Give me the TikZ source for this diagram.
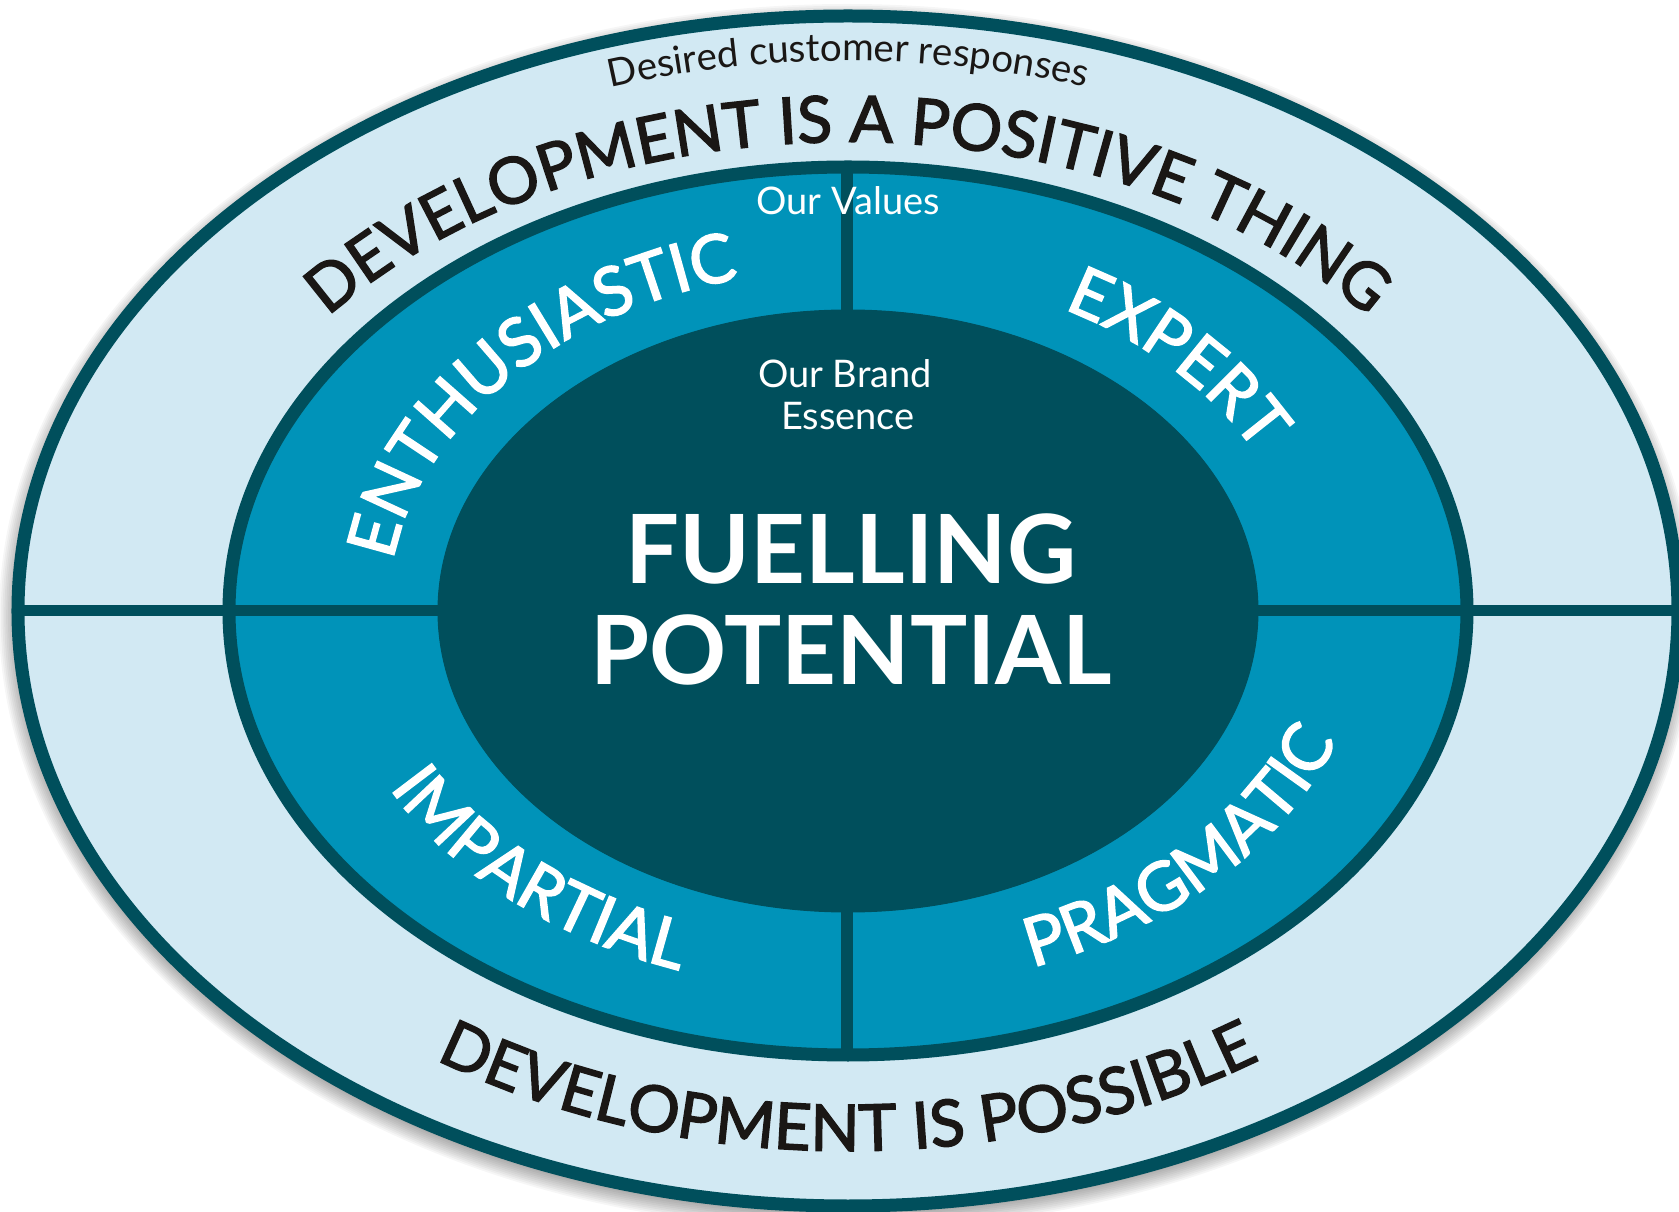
\documentclass[tikz,border=0pt]{standalone}
\usepackage{fontspec}
\setmainfont{Lato}
\newfontfamily\medfont{Lato}[FakeBold=2.2]
\usetikzlibrary{decorations.text}
\definecolor{light}{RGB}{210,233,243}
\definecolor{midb}{RGB}{0,147,185}
\definecolor{dark}{RGB}{0,79,92}
\definecolor{ink}{RGB}{26,23,21}
\newcommand\ringfont{\medfont\fontsize{64.5}{64.5}\selectfont}
\newcommand\valfont{\medfont\fontsize{67.5}{67.5}\selectfont}
\newcommand\smallfont{\fontsize{38.5}{38.5}\selectfont}
\newcommand\centfont{\fontsize{38}{38}\selectfont}
\begin{document}
\begin{tikzpicture}[x=1pt,y=1pt,
  ringline/.style={draw=dark, line width=13pt},
  divider/.style={draw=dark, line width=12pt},
  curvetext/.style={decorate, decoration={text along path, text align=center, text color=#1}},
  curvetext/.default=ink]
\useasboundingbox (-848,-601) rectangle (831,611);
\fill[white] (-848,-601) rectangle (831,611);
% soft shadow
\foreach \i in {1,...,10}
  \fill[black, opacity=0.035] (-1,-6) ellipse [x radius={830pt+\i*1.8pt}, y radius={595pt+\i*1.8pt}];
% rings
\path[ringline, fill=light] (0,0) ellipse [x radius=830pt, y radius=595pt];
\path[ringline, fill=midb] (0,0) ellipse [x radius=619pt, y radius=444pt];
% dividers
\coordinate (ol) at (-830,0); \coordinate (il) at (-410,0);
\coordinate (or) at (830,0);  \coordinate (ir) at (410,0);
\coordinate (mt) at (-1,444); \coordinate (it) at (-1,301);
\coordinate (mb) at (-1,-444); \coordinate (ib) at (-1,-301);
\draw[divider, line width=11pt] (ol) -- (il);
\draw[divider, line width=11pt] (ir) -- (or);
\draw[divider] (mt) -- (it);
\draw[divider] (ib) -- (mb);
% core
\fill[dark] (0,0) ellipse [x radius=410pt, y radius=301pt];
\draw[dark, line width=1pt] (0,0) ellipse [x radius=410pt, y radius=301pt];

% outer ring texts
\path[curvetext={ink}, decoration={text={|\smallfont|Desired customer responses}}]
  (180:775pt and 550pt) arc[start angle=180, end angle=0, x radius=775pt, y radius=550pt];
\path[curvetext={ink}, decoration={text={|\ringfont|DEVELOPMENT IS A POSITIVE THING}}]
  (180:668pt and 469pt) arc[start angle=180, end angle=0, x radius=668pt, y radius=469pt];
\path[curvetext={ink}, decoration={text={|\ringfont|DEVELOPMENT IS POSSIBLE}}]
  (180:740pt and 540pt) arc[start angle=180, end angle=360, x radius=740pt, y radius=540pt];

% value texts
\path[curvetext={white}, decoration={text={|\valfont|ENTHUSIASTIC}}]
  (178.5:460pt and 342pt) arc[start angle=178.5, end angle=98.5, x radius=460pt, y radius=342pt];
\path[curvetext={white}, decoration={text={|\valfont|EXPERT}}]
  (82:460pt and 342pt) arc[start angle=82, end angle=2, x radius=460pt, y radius=342pt];
\path[curvetext={white}, decoration={text={|\valfont|IMPARTIAL}}]
  (187:518pt and 380pt) arc[start angle=187, end angle=267, x radius=518pt, y radius=380pt];
\path[curvetext={white}, decoration={text={|\valfont|PRAGMATIC}}]
  (277.5:520pt and 381pt) arc[start angle=277.5, end angle=357.5, x radius=520pt, y radius=381pt];

% centre texts
\node[anchor=base, text=white, font=\centfont, inner sep=0pt] (values) at (0,396) {Our Values};
\node[anchor=base, text=white, font=\centfont, inner sep=0pt] (brand1) at (-3,223) {Our Brand};
\node[anchor=base, text=white, font=\centfont, inner sep=0pt] (brand2) at (0,181) {Essence};
\node[anchor=base, text=white, font=\bfseries\fontsize{95.5}{95.5}\selectfont, inner sep=0pt] (fuel) at (3,27) {FUELLING};
\node[anchor=base, text=white, font=\bfseries\fontsize{95.5}{95.5}\selectfont, inner sep=0pt] (pot) at (3,-74) {POTENTIAL};
\end{tikzpicture}
\end{document}
